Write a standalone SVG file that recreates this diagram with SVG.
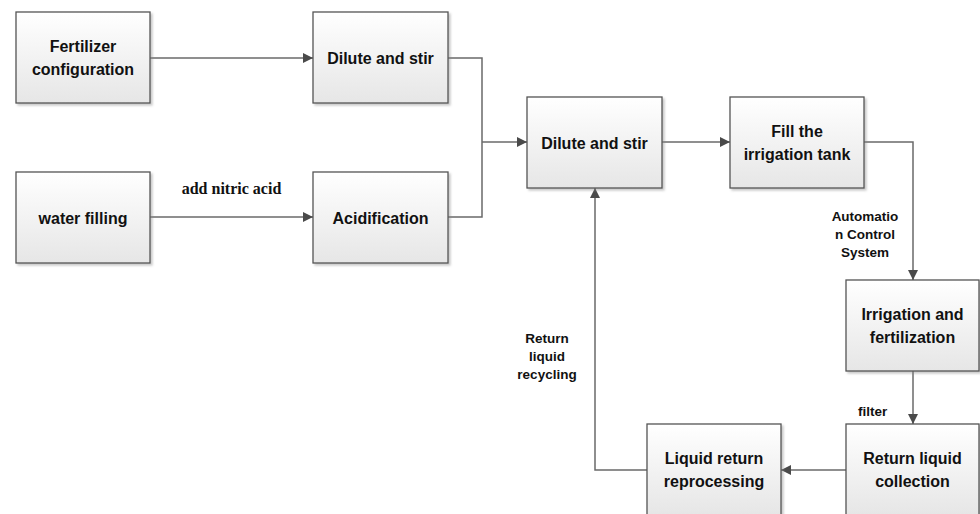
<svg xmlns="http://www.w3.org/2000/svg" width="980" height="514" viewBox="0 0 980 514">
<defs>
<linearGradient id="g" x1="0" y1="0" x2="0" y2="1">
<stop offset="0" stop-color="#ffffff"/>
<stop offset="1" stop-color="#e6e6e6"/>
</linearGradient>
<filter id="sh" x="-10%" y="-10%" width="125%" height="125%">
<feDropShadow dx="2" dy="2" stdDeviation="1.2" flood-color="#888" flood-opacity="0.45"/>
</filter>
<marker id="ah" viewBox="0 0 10 10" refX="10" refY="5" markerWidth="10" markerHeight="10" markerUnits="userSpaceOnUse" orient="auto">
<path d="M0,0 L10,5 L0,10 Z" fill="#4a4a4a"/>
</marker>
<style>
.box{fill:url(#g);stroke:#555;stroke-width:1.3;filter:url(#sh)}
.t{font-family:"Liberation Sans",Arial,sans-serif;font-weight:bold;font-size:16px;fill:#111;text-anchor:middle}
.s{font-family:"Liberation Sans",Arial,sans-serif;font-weight:bold;font-size:13.5px;fill:#111;text-anchor:middle}
.serif{font-family:"Liberation Serif","Times New Roman",serif;font-weight:bold;font-size:16px;fill:#111;text-anchor:middle}
.c{fill:none;stroke:#6a6a6a;stroke-width:1.5}
</style>
</defs>
<rect width="980" height="514" fill="#fff"/>
<g id="connectors">
<path class="c" d="M150,58 H313" marker-end="url(#ah)"/>
<path class="c" d="M150,217 H313" marker-end="url(#ah)"/>
<path class="c" d="M448,58 H482 V217 H448"/>
<path class="c" d="M482,142 H527" marker-end="url(#ah)"/>
<path class="c" d="M662,142 H730" marker-end="url(#ah)"/>
<path class="c" d="M864,142 H913 V280" marker-end="url(#ah)"/>
<path class="c" d="M913,371 V424" marker-end="url(#ah)"/>
<path class="c" d="M846,470 H781" marker-end="url(#ah)"/>
<path class="c" d="M647,470 H595 V188" marker-end="url(#ah)"/>
<text class="serif" x="231.5" y="194">add nitric acid</text>
<text class="s" x="865" y="221">Automatio</text>
<text class="s" x="865" y="239">n Control</text>
<text class="s" x="865" y="257">System</text>
<text class="s" x="858" y="416" style="text-anchor:start">filter</text>
<text class="s" x="547" y="343">Return</text>
<text class="s" x="547" y="361">liquid</text>
<text class="s" x="547" y="379">recycling</text>
</g>
<g id="fertilizer">
<rect class="box" x="16" y="12" width="134" height="91"/>
<text class="t" x="83" y="52">Fertilizer</text>
<text class="t" x="83" y="75">configuration</text>
</g>
<g id="dilute1">
<rect class="box" x="313" y="12" width="135" height="91"/>
<text class="t" x="380.5" y="63.5">Dilute and stir</text>
</g>
<g id="water">
<rect class="box" x="16" y="172" width="134" height="91"/>
<text class="t" x="83" y="223.5">water filling</text>
</g>
<g id="acid">
<rect class="box" x="313" y="172" width="135" height="91"/>
<text class="t" x="380.5" y="223.5">Acidification</text>
</g>
<g id="dilute2">
<rect class="box" x="527" y="97" width="135" height="91"/>
<text class="t" x="594.5" y="148.5">Dilute and stir</text>
</g>
<g id="fill">
<rect class="box" x="730" y="97" width="134" height="91"/>
<text class="t" x="797" y="137">Fill the</text>
<text class="t" x="797" y="160">irrigation tank</text>
</g>
<g id="irrigation">
<rect class="box" x="846" y="280" width="133" height="91"/>
<text class="t" x="912.5" y="320">Irrigation and</text>
<text class="t" x="912.5" y="343">fertilization</text>
</g>
<g id="collection">
<rect class="box" x="846" y="424" width="133" height="91"/>
<text class="t" x="912.5" y="464">Return liquid</text>
<text class="t" x="912.5" y="487">collection</text>
</g>
<g id="reprocessing">
<rect class="box" x="647" y="424" width="134" height="91"/>
<text class="t" x="714" y="464">Liquid return</text>
<text class="t" x="714" y="487">reprocessing</text>
</g>
</svg>
